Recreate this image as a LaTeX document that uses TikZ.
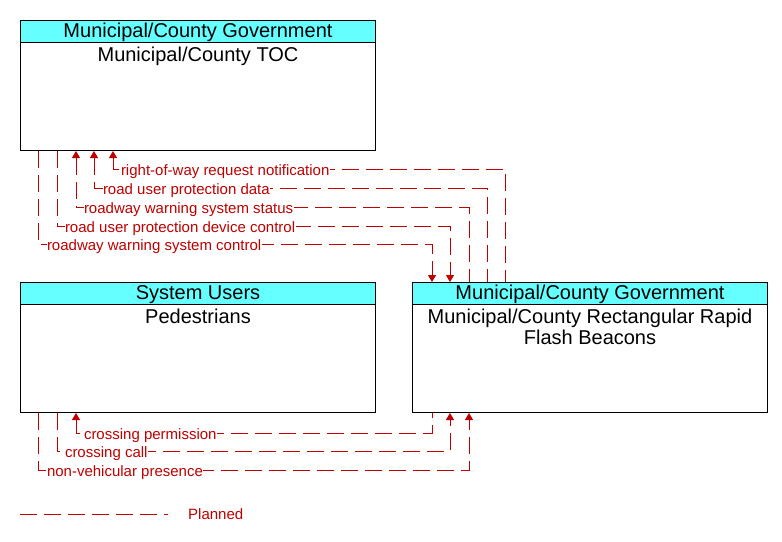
\documentclass[tikz,border=0pt]{standalone}
\usepackage{fontspec}
\setmainfont{Liberation Sans}
\usetikzlibrary{positioning,arrows.meta}
\definecolor{headcyan}{RGB}{102,255,255}
\definecolor{flowred}{RGB}{192,0,0}
\tikzset{
	elem/.style={draw, line width=1pt, fill=white, minimum width=355pt, minimum height=130pt, anchor=north west, inner sep=0pt},
	elemhead/.style={draw, line width=1pt, fill=headcyan, minimum width=355pt, minimum height=22pt, anchor=north, inner sep=0pt, text height=14.6pt, text depth=2pt, font=\fontsize{20}{21}\selectfont},
	elemname/.style={inner sep=0pt, align=center, font=\fontsize{20}{21}\selectfont},
	flow/.style={draw=flowred, line width=1pt, dash pattern=on 17pt off 7pt, arrows={-Triangle[width=8pt,length=7pt]}, >={Triangle[width=8pt,length=7pt]}},
	flowlbl/.style={anchor=base west, yshift=-6pt, fill=white, inner xsep=0.5pt, inner ysep=0pt, text=flowred, font=\fontsize{15}{16}\selectfont},
	legendlbl/.style={anchor=west, inner sep=0pt, text=flowred, font=\fontsize{15}{16}\selectfont},
}

\begin{document}
\begin{tikzpicture}[x=1pt, y=-1pt]
	\useasboundingbox (0,0) rectangle (782,541);
	% boxes
	\node[elem] (toc) at (20,20) {};
	\node[elemhead] (tochead) at (toc.north) {Municipal/County Government};
	\node[elemname, below=4pt of tochead] (tocname) {Municipal/County TOC};

	\node[elem] (ped) at (20,282) {};
	\node[elemhead] (pedhead) at (ped.north) {System Users};
	\node[elemname, below=4pt of pedhead] (pedname) {Pedestrians};

	\node[elem] (rrfb) at (412,282) {};
	\node[elemhead] (rrfbhead) at (rrfb.north) {Municipal/County Government};
	\node[elemname, below=4pt of rrfbhead] (rrfbname) {Municipal/County Rectangular Rapid\\Flash Beacons};

	% TOC <-> RRFB
	\draw[flow,<-] ([xshift=93pt]toc.south west) -- ++(0,18) node[flowlbl,xshift=7pt] {right-of-way request notification} -| ([xshift=93pt]rrfb.north west);
	\draw[flow,<-] ([xshift=74pt]toc.south west) -- ++(0,37) node[flowlbl,xshift=8pt] {road user protection data} -| ([xshift=75pt]rrfb.north west);
	\draw[flow,<-] ([xshift=56pt]toc.south west) -- ++(0,56) node[flowlbl,xshift=7pt] {roadway warning system status} -| ([xshift=57pt]rrfb.north west);
	\draw[flow,->] ([xshift=37pt]toc.south west) -- ++(0,75) node[flowlbl,xshift=7pt] {road user protection device control} -| ([xshift=38pt]rrfb.north west);
	\draw[flow,->] ([xshift=18pt]toc.south west) -- ++(0,93) node[flowlbl,xshift=8pt] {roadway warning system control} -| ([xshift=20pt]rrfb.north west);

	% Pedestrians <-> RRFB
	\draw[flow,<-] ([xshift=56pt]ped.south west) -- ++(0,20) node[flowlbl,xshift=7pt] {crossing permission} -| ([xshift=20pt]rrfb.south west);
	\draw[flow,->] ([xshift=37pt]ped.south west) -- ++(0,38) node[flowlbl,xshift=7pt] {crossing call} -| ([xshift=38pt]rrfb.south west);
	\draw[flow,->] ([xshift=18pt]ped.south west) -- ++(0,57) node[flowlbl,xshift=8pt] {non-vehicular presence} -| ([xshift=57pt]rrfb.south west);

	% legend
	\coordinate (lgstart) at (20,514);
	\coordinate (lgend) at (168,514);
	\draw[flow,-] (lgstart) -- (lgend);
	\node[legendlbl] (lgtext) at (188,514) {Planned};
\end{tikzpicture}
\end{document}
